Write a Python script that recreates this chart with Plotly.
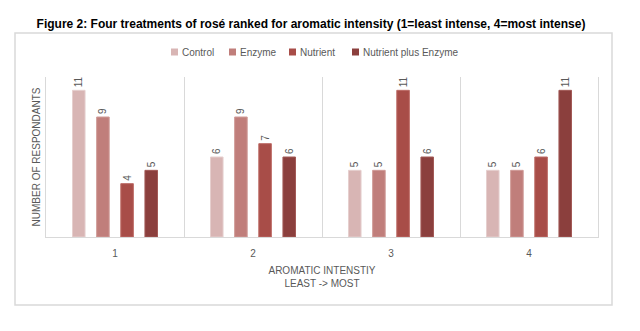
import plotly.graph_objects as go

categories = ["1", "2", "3", "4"]
series_names = ["Control", "Enzyme", "Nutrient", "Nutrient plus Enzyme"]
control = [11, 6, 5, 5]
enzyme = [9, 9, 5, 5]
nutrient = [4, 7, 11, 6]
nutrient_enzyme = [5, 6, 6, 11]
colors = ["#d8b5b4", "#c07e7b", "#a84d48", "#8b3f3d"]
borders = ["#e6cfce", "#d09b98", "#bd6b66", "#a35a57"]

# plot-area geometry in pixels (layout constants)
W, H = 640, 331
PL, PR, PT, PB = 46, 598, 77, 237
pw, ph = PR - PL, PB - PT

def px_x(x):
    return (x - PL) / pw

def px_y(y):
    return (PB - y) / ph

fig = go.Figure()
for name, vals, c, bc in zip(series_names, [control, enzyme, nutrient, nutrient_enzyme], colors, borders):
    fig.add_trace(go.Bar(
        x=categories, y=vals, name=name, showlegend=False,
        marker=dict(color=c, line=dict(color=bc, width=1)),
        text=[str(v) for v in vals], textposition="outside", textangle=-90,
        textfont=dict(size=10, color="#595959", family="Liberation Sans"),
        constraintext="none", cliponaxis=False,
    ))

# manual legend (small square swatches + text)
legend_px = [171, 229, 289, 352]
legend_y = 52
shapes = [dict(type="rect", xref="paper", yref="paper",
               x0=px_x(15), x1=px_x(612), y0=px_y(305), y1=px_y(33),
               line=dict(color="#d9d9d9", width=1.5), layer="below")]
annotations = []
for name, c, lx in zip(series_names, colors, legend_px):
    shapes.append(dict(type="rect", xref="paper", yref="paper",
                       x0=px_x(lx), x1=px_x(lx + 7), y0=px_y(legend_y + 3.5), y1=px_y(legend_y - 3.5),
                       fillcolor=c, line=dict(width=0)))
    annotations.append(dict(text=name, xref="paper", yref="paper", x=px_x(lx + 9), y=px_y(legend_y),
                            xanchor="left", yanchor="middle", showarrow=False,
                            font=dict(size=10, color="#595959", family="Liberation Sans")))

fig.update_layout(
    width=W, height=H,
    margin=dict(l=PL, r=W - PR, t=PT, b=H - PB),
    paper_bgcolor="white", plot_bgcolor="white",
    barmode="group", bargap=0.30, bargroupgap=0.48,
    font=dict(family="Liberation Sans", color="#595959", size=10),
    title=dict(
        text="<b>Figure 2: Four treatments of rosé ranked for aromatic intensity (1=least intense, 4=most intense)</b>",
        x=311 / W, xanchor="center", y=1 - 24 / H, yanchor="middle",
        font=dict(family="Liberation Sans", size=12, color="#000000"),
    ),
    showlegend=False,
    xaxis=dict(
        type="category", tickson="boundaries", ticks="", showgrid=True, gridcolor="#d9d9d9",
        showline=True, linecolor="#d9d9d9", linewidth=1, ticklabelstandoff=7,
        tickfont=dict(size=10, color="#595959"),
        title=dict(text="AROMATIC INTENSTIY<br>LEAST -> MOST", font=dict(size=10, color="#595959"), standoff=8),
    ),
    yaxis=dict(
        range=[0, 12], showticklabels=False, ticks="", showgrid=False, zeroline=False,
        showline=True, mirror=True, linecolor="#d9d9d9", linewidth=1,
        title=dict(text="NUMBER OF RESPONDANTS", font=dict(size=10, color="#595959"), standoff=2),
    ),
    shapes=shapes,
    annotations=annotations,
)

fig.write_html("out.html")
